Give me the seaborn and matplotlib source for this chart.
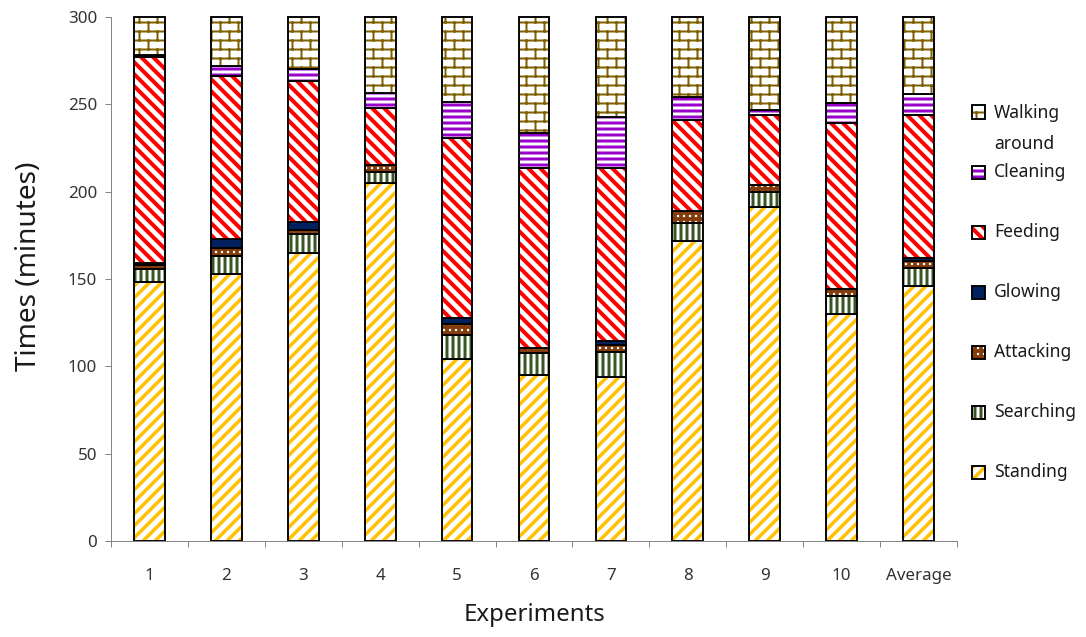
import warnings

import numpy as np
import pandas as pd
import matplotlib
matplotlib.use("Agg")
import matplotlib.pyplot as plt
import matplotlib.hatch as mhatch
from matplotlib.path import Path
from matplotlib.patches import Rectangle
import seaborn as sns

warnings.filterwarnings("ignore")

# ---- data (minutes spent in each behaviour, per experiment) ----
experiments = ["1", "2", "3", "4", "5", "6", "7", "8", "9", "10", "Average"]
standing = [148, 153, 165, 205, 104, 95, 94, 172, 191, 130, 146]
searching = [7.5, 10, 11, 6, 14, 12.5, 14, 10, 9, 10.5, 10.5]
attacking = [2.5, 5, 2, 4, 6, 3, 4.5, 7, 4, 4, 4]
glowing = [1, 5, 4.5, 0, 3.5, 0, 2, 0, 0, 0, 1.5]
feeding = [118, 93, 81, 33, 103, 103, 99, 52, 40, 95, 82]
cleaning = [1, 6, 7, 8.5, 21, 20, 29.5, 13, 3, 11.5, 12]
walking = [22, 28, 29.5, 43.5, 48.5, 66.5, 57, 46, 53, 49, 44]

behaviours = ["Standing", "Searching", "Attacking", "Glowing",
              "Feeding", "Cleaning", "Walking around"]
legend_order = ["Walking around", "Cleaning", "Feeding", "Glowing",
                "Attacking", "Searching", "Standing"]
legend_text = {"Walking around": "Walking\naround"}

df = pd.DataFrame({
    "Experiment": experiments,
    "Standing": standing,
    "Searching": searching,
    "Attacking": attacking,
    "Glowing": glowing,
    "Feeding": feeding,
    "Cleaning": cleaning,
    "Walking around": walking,
})


# ---- a running-bond brick hatch, selected with the 'b' hatch character ----
class BrickHatch(mhatch.HatchPatternBase):
    rows = 8
    cols = 4

    def __init__(self, hatch, density):
        on = "b" in hatch
        n_segs = self.rows + self.rows * self.cols + self.cols
        self.num_vertices = 2 * n_segs if on else 0

    def set_vertices_and_codes(self, vertices, codes):
        r, c = self.rows, self.cols
        ys = (np.arange(r) + 0.5) / r
        segs = [((0.0, y), (1.0, y)) for y in ys]
        for i, y in enumerate(ys):
            shift = 0.5 / c if i % 2 else 0.0
            for j in range(c):
                x = (j + 0.25) / c + shift
                if i < r - 1:
                    segs.append(((x, y), (x, y + 1.0 / r)))
                else:
                    segs.append(((x, y), (x, 1.0)))
                    segs.append(((x, 0.0), (x, 0.5 / r)))
        for k, (p0, p1) in enumerate(segs):
            vertices[2 * k] = p0
            vertices[2 * k + 1] = p1
            codes[2 * k] = Path.MOVETO
            codes[2 * k + 1] = Path.LINETO


mhatch._hatch_types.append(BrickHatch)

# face colour, hatch, hatch colour, hatch line width
styles = {
    "Standing": ("white", "//", "#FFC000", 3.5),
    "Searching": ("white", "||", "#375623", 3.0),
    "Attacking": ("white", "++", "#843C0C", 3.8),
    "Glowing": ("#002060", None, "#002060", 1.0),
    "Feeding": ("white", "\\\\", "#FF0000", 4.0),
    "Cleaning": ("white", "--", "#9900CC", 3.0),
    "Walking around": ("white", "b", "#7F6000", 2.0),
}

DPI = 72
W, H = 1086, 637
sns.set_theme(style="white")
plt.rcParams["font.family"] = ["Noto Sans", "DejaVu Sans"]

fig = plt.figure(figsize=(W / DPI, H / DPI), dpi=DPI)
ax = fig.add_axes([111 / W, 1 - 541 / H, (957 - 111) / W, (541 - 17) / H])

BAR_W = 0.4
EDGE_LW = 1.9

bottom = np.zeros(len(experiments))
for name in behaviours:
    face, hatch, hcolor, hlw = styles[name]
    n_before = len(ax.patches)
    with plt.rc_context({"hatch.linewidth": hlw}):
        sns.barplot(data=df, x="Experiment", y=name, order=experiments,
                    bottom=bottom, width=BAR_W, color=face, saturation=1,
                    edgecolor=hcolor, linewidth=0, hatch=hatch,
                    errorbar=None, ax=ax)
    for p in ax.patches[n_before:]:
        if hasattr(p, "set_hatch_linewidth"):
            p.set_hatch_linewidth(hlw)
    sns.barplot(data=df, x="Experiment", y=name, order=experiments,
                bottom=bottom, width=BAR_W, fill=False, color="black",
                saturation=1, linewidth=EDGE_LW, errorbar=None,
                clip_on=False, ax=ax)
    bottom = bottom + df[name].to_numpy()

# ---- axes styling ----
axis_grey = "#868686"
ax.set_xlim(-0.5, len(experiments) - 0.5)
ax.set_ylim(0, 300)
ax.set_yticks(np.arange(0, 301, 50))
ax.set_xticks(np.arange(len(experiments)))
ax.set_xticklabels(experiments)
ax.set_xticks(np.arange(len(experiments) + 1) - 0.5, minor=True)

for side in ("top", "right"):
    ax.spines[side].set_visible(False)
for side in ("left", "bottom"):
    ax.spines[side].set_color(axis_grey)
    ax.spines[side].set_linewidth(1.0)

ax.tick_params(axis="y", which="major", direction="out", length=6, width=1,
               color=axis_grey, pad=8, labelsize=17, labelcolor="#333333",
               left=True)
ax.tick_params(axis="x", which="major", length=0, pad=27, labelsize=17,
               labelcolor="#333333", bottom=True)
ax.tick_params(axis="x", which="minor", direction="out", length=6, width=1,
               color=axis_grey, bottom=True)
ax.grid(False)

ax.set_ylabel("Times (minutes)", fontsize=28, color="#1a1a1a")
ax.set_xlabel("Experiments", fontsize=24, color="#1a1a1a")
ax.yaxis.set_label_coords(-0.08, 0.525)
ax.xaxis.set_label_coords(0.5, -0.118)

# ---- legend on the right ----
handle_x, handle_s = 972, 13
text_x = 994
entry_y = [112, 172, 232, 292, 352, 412, 472]
for name, yc in zip(legend_order, entry_y):
    face, hatch, hcolor, hlw = styles[name]
    x0 = handle_x / W
    y0 = 1 - (yc + handle_s / 2) / H
    w, h = handle_s / W, handle_s / H
    with plt.rc_context({"hatch.linewidth": hlw}):
        swatch = Rectangle((x0, y0), w, h, transform=fig.transFigure,
                           facecolor=face, edgecolor=hcolor, linewidth=0,
                           hatch=hatch)
    if hasattr(swatch, "set_hatch_linewidth"):
        swatch.set_hatch_linewidth(hlw)
    fig.add_artist(swatch)
    fig.add_artist(Rectangle((x0, y0), w, h, transform=fig.transFigure,
                             facecolor="none", edgecolor="black",
                             linewidth=EDGE_LW))
    label = legend_text.get(name, name)
    if "\n" in label:
        fig.text(text_x / W, 1 - 128.5 / H, label, fontsize=17.5,
                 va="center", ha="left", linespacing=1.95, color="#1a1a1a")
    else:
        fig.text(text_x / W, 1 - yc / H, label, fontsize=17.5,
                 va="center", ha="left", color="#1a1a1a")

fig.savefig("out.png", dpi=DPI)
